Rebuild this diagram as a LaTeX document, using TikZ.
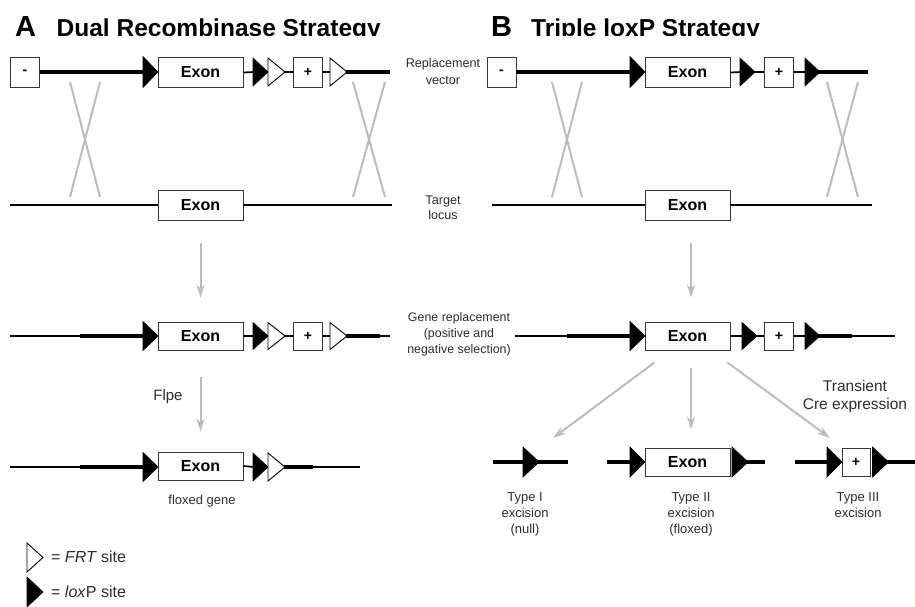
\documentclass[tikz,border=0pt]{standalone}
\usepackage{fontspec}
\setmainfont{Liberation Sans}
\usetikzlibrary{arrows.meta}

\definecolor{arrowgray}{RGB}{188,188,188}
\definecolor{boxline}{RGB}{55,55,55}
\definecolor{labeltext}{RGB}{45,45,45}

\newcommand\fsz[2]{\fontsize{#1}{#2}\selectfont}
% loxP site: filled black triangle, left edge at x=#1, centred on y=#2, width #3, height #4
\newcommand\loxsite[4]{\filldraw[black, line width=0.6pt, line join=miter] (#1,#2-#4/2) -- (#1,#2+#4/2) -- (#1+#3,#2) -- cycle;}
% FRT site: open triangle with the same geometry
\newcommand\frtsite[4]{\filldraw[fill=white, draw=black, line width=0.9pt, line join=miter] (#1,#2-#4/2) -- (#1,#2+#4/2) -- (#1+#3,#2) -- cycle;}

\tikzset{
  gene/.style={draw=boxline, line width=0.9pt, fill=white, minimum width=85pt,
    minimum height=30pt, inner sep=0pt, font=\bfseries\fsz{16}{19}},
  selbox/.style={draw=boxline, line width=0.9pt, fill=white, minimum width=29pt,
    minimum height=30pt, inner sep=0pt, font=\bfseries\fsz{14}{16}},
  thickdna/.style={line width=3.2pt},
  dna/.style={line width=1.7pt},
  thindna/.style={line width=1.2pt},
  cross/.style={arrowgray, line width=2pt},
  flow/.style={arrowgray, line width=2pt, -{Stealth[length=13pt,width=8pt]}},
  lbl/.style={align=center, text=labeltext, inner sep=0pt},
  title/.style={anchor=base west, inner sep=0pt, font=\bfseries\fsz{24.5}{26}},
  panel/.style={anchor=base west, inner sep=0pt, font=\bfseries\fsz{29}{30}},
}

\begin{document}
\begin{tikzpicture}[x=1pt,y=-1pt]
\useasboundingbox[fill=white] (0,0) rectangle (915,607);

% ---------- panel titles ----------
\begin{scope}
  \clip (0,0) rectangle (915,35.5);
  \node[panel] (pa) at (15,37) {A};
  \node[title] (ta) at (56.5,37) {Dual Recombinase Strategy};
  \node[panel] (pb) at (491,37) {B};
  \node[title] (tb) at (531,37) {Triple loxP Strategy};
\end{scope}

% ================= Panel A =================
% replacement vector
\node[selbox] (a1neg) at (25,72) {-};
\node[gene] (a1ex) at (200.5,72.5) {Exon};
\node[selbox] (a1pos) at (308,72) {+};
\draw[thickdna] (a1neg.east) -- (145,72);
\draw[dna] (a1ex.east) -- (254,72);
\draw[dna] (284,72) -- (a1pos.west);
\draw[dna] (a1pos.east) -- (331,72);
\draw[thickdna] (346,72) -- (390,72);
\loxsite{143}{72}{15}{31}
\loxsite{253}{72}{15}{28}
\frtsite{268}{72}{17}{28}
\frtsite{330}{72}{17}{28}

% homologous recombination crossovers
\draw[cross] (70,82) -- (100,197);
\draw[cross] (100,82) -- (70,197);
\draw[cross] (353,82) -- (385,197);
\draw[cross] (385,82) -- (353,197);

% target locus
\node[gene] (a2ex) at (200.5,205) {Exon};
\draw[dna] (10,205) -- (a2ex.west);
\draw[dna] (a2ex.east) -- (392,205);

% gene replacement
\node[gene, minimum height=28pt] (a3ex) at (200.5,336) {Exon};
\node[selbox, minimum height=28pt] (a3pos) at (308,336) {+};
\draw[thindna] (10,336) -- (80,336);
\draw[thickdna] (80,336) -- (145,336);
\draw[dna] (a3ex.east) -- (254,336);
\draw[dna] (284,336) -- (a3pos.west);
\draw[dna] (a3pos.east) -- (331,336);
\draw[thickdna] (346,336) -- (380,336);
\draw[thindna] (380,336) -- (390,336);
\loxsite{143}{336}{15}{29}
\loxsite{253}{336}{15}{27}
\frtsite{268}{336}{17}{27}
\frtsite{330}{336}{17}{27}

\draw[flow] ([yshift=-23pt]a2ex.south) -- ([yshift=24pt]a3ex.north);

% floxed gene
\node[gene, minimum height=28pt] (a4ex) at (200.5,466) {Exon};
\draw[thindna] (10,467) -- (80,467);
\draw[thickdna] (80,467) -- (145,467);
\draw[dna] (a4ex.east) -- (254,467);
\draw[thickdna] (284,467) -- (313,467);
\draw[thindna] (313,467) -- (360,467);
\loxsite{143}{467}{15}{29}
\loxsite{253}{467}{15}{28}
\frtsite{268}{467}{17}{28}

\draw[flow] ([yshift=-27pt]a3ex.south) -- ([yshift=20pt]a4ex.north);
\node[lbl, font=\fsz{15}{18}] (flpe) at (168,397) {Flpe};
\node[lbl, font=\fsz{13}{16}] (flox) at (202,501) {floxed gene};

% legend
\frtsite{27}{557.5}{16}{29}
\node[anchor=west, inner sep=0pt, text=labeltext, font=\fsz{16}{18}] (lfrt) at (51,557) {= \textit{FRT} site};
\loxsite{27}{592}{16}{30}
\node[anchor=west, inner sep=0pt, text=labeltext, font=\fsz{16}{18}] (llox) at (51,592) {= \textit{lox}P site};

% ---------- row captions ----------
\node[lbl, font=\fsz{12.6}{17}] (cap1) at (443,71.5) {Replacement\\vector};
\node[lbl, font=\fsz{12.6}{15}] (cap2) at (443,207.5) {Target\\locus};
\node[lbl, font=\fsz{12.4}{16}] (cap3) at (459,334) {Gene replacement\\(positive and\\negative selection)};

% ================= Panel B =================
% replacement vector
\node[selbox] (b1neg) at (501.5,72) {-};
\node[gene] (b1ex) at (687.5,72.5) {Exon};
\node[selbox] (b1pos) at (779,72) {+};
\draw[thickdna] (b1neg.east) -- (632,72);
\draw[dna] (b1ex.east) -- (741,72);
\draw[dna] (754,72) -- (b1pos.west);
\draw[dna] (b1pos.east) -- (806,72);
\draw[thickdna] (819,72) -- (868,72);
\loxsite{630}{72}{15}{31}
\loxsite{740}{72}{15}{28}
\loxsite{805}{72}{15}{28}

\draw[cross] (552,82) -- (582,197);
\draw[cross] (582,82) -- (552,197);
\draw[cross] (827,82) -- (858,197);
\draw[cross] (858,82) -- (827,197);

% target locus
\node[gene] (b2ex) at (687.5,205) {Exon};
\draw[dna] (492,205) -- (b2ex.west);
\draw[dna] (b2ex.east) -- (872,205);

% gene replacement
\node[gene, minimum height=28pt] (b3ex) at (687.5,336) {Exon};
\node[selbox, minimum height=28pt] (b3pos) at (779,336) {+};
\draw[thindna] (515,336) -- (567,336);
\draw[thickdna] (567,336) -- (632,336);
\draw[dna] (b3ex.east) -- (743,336);
\draw[dna] (756,336) -- (b3pos.west);
\draw[dna] (b3pos.east) -- (806,336);
\draw[thickdna] (819,336) -- (852,336);
\draw[thindna] (852,336) -- (895,336);
\loxsite{630}{336}{15}{29}
\loxsite{742}{336}{15}{27}
\loxsite{805}{336}{15}{27}

\draw[flow] ([xshift=3.5pt,yshift=-23pt]b2ex.south) -- ([xshift=3.5pt,yshift=24pt]b3ex.north);

% excision products
\coordinate (t1end) at (553,438);
\coordinate (t3end) at (830,438);

\draw[thickdna] (493,462) -- (568,462);
\loxsite{523}{462}{16}{30}

\node[gene, minimum height=28pt] (b4ex) at (687.5,462) {Exon};
\draw[thickdna] (607,462) -- (631,462);
\loxsite{630}{462}{15}{30}
\loxsite{732}{462}{16}{30}
\draw[thickdna] (747,462) -- (765,462);

\node[selbox, minimum width=28pt, minimum height=28pt] (b4pos) at (856,462) {+};
\draw[thickdna] (795,462) -- (828,462);
\loxsite{827}{462}{15}{30}
\loxsite{872.5}{462}{16}{30}
\draw[thickdna] (887,462) -- (915,462);

\draw[flow] ([xshift=10pt,yshift=-12pt]b3ex.south west) -- (t1end);
\draw[flow] ([xshift=3.5pt,yshift=-18pt]b3ex.south) -- ([xshift=3.5pt,yshift=18pt]b4ex.north);
\draw[flow] ([xshift=-3pt,yshift=-12pt]b3ex.south east) -- (t3end);

\node[lbl, font=\fsz{15.5}{18}] (cre) at (855,396) {Transient\\Cre expression};

\node[lbl, anchor=north, font=\fsz{13}{16}] (ty1) at (525,492) {Type I\\excision\\(null)};
\node[lbl, anchor=north, font=\fsz{13}{16}] (ty2) at (691,492) {Type II\\excision\\(floxed)};
\node[lbl, anchor=north, font=\fsz{13}{16}] (ty3) at (858,492) {Type III\\excision};

\end{tikzpicture}
\end{document}
